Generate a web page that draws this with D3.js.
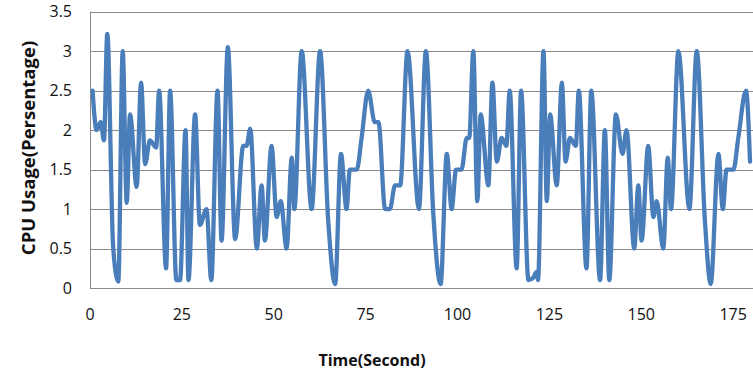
<!DOCTYPE html>
<html>
<head>
<meta charset="utf-8">
<script src="https://cdn.jsdelivr.net/npm/d3@7"></script>
<style>
  body { margin: 0; background: #fff; }
  svg { display: block; font-family: "Open Sans", "Liberation Sans", sans-serif; }
</style>
</head>
<body>
<div id="chart"></div>
<script>
// time stamps (s) of the points
const timeSec = [
  0.7, 1.8, 2.9, 3.8, 4.7, 6.3, 7.7, 8.9, 10.0, 10.9,
  12.7, 13.9, 15.0, 16.3, 18.0, 18.8, 20.7, 21.8, 23.5, 24.5,
  26.0, 26.8, 28.6, 29.9, 31.7, 33.0, 34.7, 35.8, 37.5, 39.5,
  41.7, 42.6, 43.6, 45.4, 46.7, 47.6, 49.4, 50.8, 51.9, 53.5,
  54.9, 55.6, 57.6, 60.3, 62.6, 64.8, 66.7, 68.3, 69.8, 70.7,
  72.6, 73.9, 75.7, 77.5, 78.5, 80.3, 81.6, 83.0, 84.4, 86.4,
  89.5, 91.4, 93.4, 95.4, 97.1, 98.4, 99.6, 101.1, 102.5, 103.2,
  104.3, 105.4, 106.3, 108.4, 109.5, 110.7, 112.0, 113.3, 114.2, 116.1,
  117.3, 119.3, 120.6, 121.5, 121.9, 123.4, 124.3, 125.2, 127.0, 128.4,
  129.4, 130.6, 132.2, 133.0, 135.1, 136.4, 138.8, 140.1, 141.3, 143.1,
  144.9, 146.0, 148.1, 149.2, 150.1, 151.9, 153.3, 154.2, 156.0, 157.2,
  158.1, 160.1, 163.1, 165.1, 167.3, 168.9, 171.0, 172.2, 173.2, 175.1,
  176.4, 178.5, 179.6
];

const cpuUsage = [
  2.5, 2.0, 2.1, 1.87, 3.22, 0.52, 0.08, 3.0, 1.08, 2.2,
  1.28, 2.6, 1.57, 1.87, 1.78, 2.5, 0.25, 2.5, 0.1, 0.1,
  2.0, 0.1, 2.2, 0.8, 1.0, 0.1, 2.5, 0.6, 3.05, 0.62,
  1.8, 1.8, 2.02, 0.5, 1.3, 0.6, 1.8, 0.9, 1.1, 0.5,
  1.65, 1.0, 3.0, 1.0, 3.0, 0.87, 0.05, 1.7, 1.0, 1.5,
  1.5, 1.9, 2.5, 2.1, 2.1, 1.0, 1.0, 1.3, 1.3, 3.0,
  1.0, 3.0, 0.95, 0.05, 1.7, 1.0, 1.5, 1.5, 1.9, 1.9,
  3.0, 1.1, 2.2, 1.3, 2.6, 1.6, 1.9, 1.8, 2.5, 0.25,
  2.5, 0.1, 0.13, 0.2, 0.1, 3.0, 1.1, 2.2, 1.3, 2.6,
  1.6, 1.9, 1.8, 2.5, 0.25, 2.5, 0.1, 2.0, 0.1, 2.2,
  1.7, 2.0, 0.5, 1.3, 0.6, 1.8, 0.9, 1.1, 0.5, 1.65,
  1.0, 3.0, 1.0, 3.0, 0.87, 0.05, 1.7, 1.0, 1.5, 1.5,
  1.9, 2.5, 1.6
];

const xTicks = [0, 25, 50, 75, 100, 125, 150, 175];
const yTicks = [0, 0.5, 1, 1.5, 2, 2.5, 3, 3.5];

let width = 753;
let height = 378;

let x = d3.scaleLinear().domain([0, 180]).range([90, 751.5]);
let y = d3.scaleLinear().domain([0, 3.5]).range([288, 11.7]);

let svg = d3.select("#chart")
  .append("svg")
  .attr("width", width)
  .attr("height", height);

// gridlines
svg.append("g")
  .selectAll("line")
  .data(yTicks)
  .enter().append("line")
  .attr("x1", x(0))
  .attr("x2", width)
  .attr("y1", (d) => Math.round(y(d)) + 0.5)
  .attr("y2", (d) => Math.round(y(d)) + 0.5)
  .attr("stroke", "#8a8a8a")
  .attr("stroke-width", 1);

// left axis line
svg.append("line")
  .attr("x1", Math.round(x(0)) + 0.5)
  .attr("x2", Math.round(x(0)) + 0.5)
  .attr("y1", y(3.5))
  .attr("y2", y(0))
  .attr("stroke", "#8a8a8a");

// y tick labels
svg.append("g")
  .selectAll("text")
  .data(yTicks)
  .enter().append("text")
  .attr("x", 72)
  .attr("y", (d) => y(d))
  .attr("dy", "0.35em")
  .attr("text-anchor", "end")
  .attr("font-size", 16)
  .attr("fill", "#111")
  .text((d) => d);

// x tick labels
svg.append("g")
  .selectAll("text")
  .data(xTicks)
  .enter().append("text")
  .attr("x", (d) => x(d))
  .attr("y", 314)
  .attr("dy", "0.35em")
  .attr("text-anchor", "middle")
  .attr("font-size", 16)
  .attr("fill", "#111")
  .text((d) => d);

// data line
let points = timeSec.map((t, i) => [t, cpuUsage[i]]);

let line = d3.line()
  .x((d) => x(d[0]))
  .y((d) => y(d[1]))
  .curve(d3.curveMonotoneX);

svg.append("path")
  .datum(points)
  .attr("d", line)
  .attr("fill", "none")
  .attr("stroke", "#4a7ebb")
  .attr("stroke-width", 4.3)
  .attr("stroke-linejoin", "round")
  .attr("stroke-linecap", "round");

// axis titles
svg.append("text")
  .attr("transform", "translate(29,148) rotate(-90)")
  .attr("dy", "0.35em")
  .attr("text-anchor", "middle")
  .attr("font-size", 18.5)
  .attr("font-weight", "bold")
  .attr("fill", "#111")
  .text("CPU Usage(Persentage)");

svg.append("text")
  .attr("x", 372)
  .attr("y", 360)
  .attr("dy", "0.35em")
  .attr("text-anchor", "middle")
  .attr("font-size", 16)
  .attr("font-weight", "bold")
  .attr("fill", "#111")
  .text("Time(Second)");
</script>
</body>
</html>
